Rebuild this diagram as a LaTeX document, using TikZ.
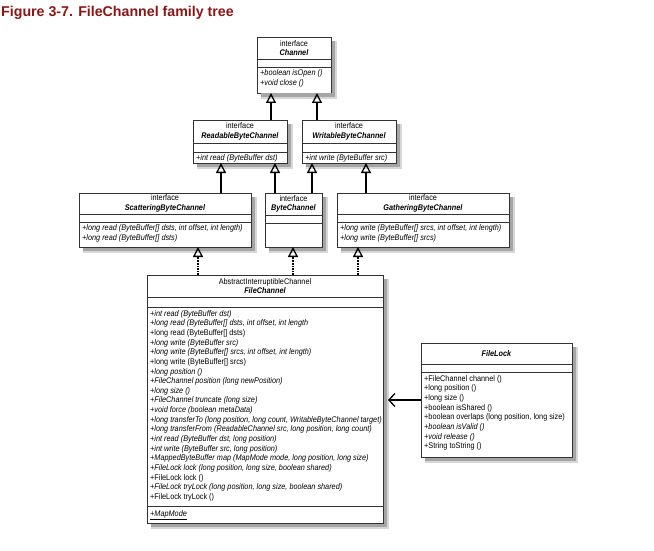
\documentclass[tikz,border=0pt]{standalone}
\usepackage{fontspec}
\setmainfont{Liberation Sans}
\newfontfamily\bfnt[FakeStretch=0.89]{Liberation Sans}
\usetikzlibrary{arrows.meta}
\definecolor{titlered}{RGB}{140,22,22}
\definecolor{shA}{RGB}{215,215,215}
\definecolor{shC}{RGB}{165,165,165}
\newcommand\ubox[7]{%
  \node[umlbox, minimum width=#4, minimum height=#5] (#1) at (#2,#3) {};
  \draw[shA, line width=5.4pt] ([xshift=3.2pt,yshift=-4pt]#1.north east) -- ([xshift=3.2pt,yshift=-3.2pt]#1.south east) -- ([xshift=4pt,yshift=-3.2pt]#1.south west);
  \draw[shC, line width=3.2pt] ([xshift=2.1pt,yshift=-4pt]#1.north east) -- ([xshift=2.1pt,yshift=-2.1pt]#1.south east) -- ([xshift=4pt,yshift=-2.1pt]#1.south west);
  \draw[divl] ([yshift=-#6pt]#1.north west) -- ([yshift=-#6pt]#1.north east);
  \draw[divl] ([yshift=-#7pt]#1.north west) -- ([yshift=-#7pt]#1.north east);
}
\begin{document}
\begin{tikzpicture}[x=1pt,y=-1pt,
  umlbox/.style={draw=black!80, line width=0.8pt, fill=white, rectangle, inner sep=0pt, outer sep=0pt, anchor=north west},
  divl/.style={draw=black!80, line width=0.8pt},
  ttl/.style={font=\bfnt\fontsize{8.2}{9.6}\selectfont, align=center, inner sep=0pt},
  mth/.style={font=\bfnt\fontsize{8.2}{9.65}\selectfont, align=left, inner sep=0pt, anchor=north west},
  gen/.style={line width=1.6pt, -{Triangle[open,length=10pt,width=10pt,line width=1.3pt]}},
  real/.style={line width=1.6pt, densely dotted, -{Triangle[open,length=10pt,width=10pt,line width=1.3pt]}},
  assoc/.style={line width=1.3pt, -{Straight Barb[length=6pt,width=13pt,line width=1.3pt]}},
]
\fill[white] (0,0) rectangle (654,551);
\useasboundingbox (0,0) rectangle (654,551);
\node[anchor=base west, inner sep=0pt, text=titlered, font=\fontsize{14.2}{16}\selectfont\bfseries] (title) at (1,17) {Figure 3-7. FileChannel family tree};

% boxes
\ubox{channel}{257}{37}{74}{56}{22}{30}
\ubox{read}{193}{120}{94}{43}{23}{32}
\ubox{write}{302}{120}{94}{43}{23}{32}
\ubox{scat}{79}{193}{172}{54}{21}{29}
\ubox{byte}{265}{193}{57}{54}{22}{30}
\ubox{gath}{337}{193}{172}{54}{21}{29}
\ubox{fc}{147}{275}{236}{248}{22}{32}
\draw[divl] ([yshift=-231pt]fc.north west) -- ([yshift=-231pt]fc.north east);
\ubox{fl}{421}{343}{151}{114}{21}{29}

% titles
\node[ttl] (channelT) at ([yshift=-11pt]channel.north) {interface\\\textbf{\textit{Channel}}};
\node[ttl] (readT) at ([yshift=-11.5pt]read.north) {interface\\\textbf{\textit{ReadableByteChannel}}};
\node[ttl] (writeT) at ([yshift=-11.5pt]write.north) {interface\\\textbf{\textit{WritableByteChannel}}};
\node[ttl] (scatT) at ([yshift=-10.5pt]scat.north) {interface\\\textbf{\textit{ScatteringByteChannel}}};
\node[ttl] (byteT) at ([yshift=-11pt]byte.north) {interface\\\textbf{\textit{ByteChannel}}};
\node[ttl] (gathT) at ([yshift=-10.5pt]gath.north) {interface\\\textbf{\textit{GatheringByteChannel}}};
\node[ttl] (fcT) at ([yshift=-11pt]fc.north) {AbstractInterruptibleChannel\\\textbf{\textit{FileChannel}}};
\node[ttl] (flT) at ([yshift=-10.5pt]fl.north) {\textbf{\textit{FileLock}}};

% methods
\node[mth] (channelM) at ([xshift=3pt,yshift=-32.5pt]channel.north west) {\textit{+boolean isOpen ()}\\\textit{+void close ()}};
\node[mth] (readM) at ([xshift=3pt,yshift=-34pt]read.north west) {\textit{+int read (ByteBuffer dst)}};
\node[mth] (writeM) at ([xshift=3pt,yshift=-34pt]write.north west) {\textit{+int write (ByteBuffer src)}};
\node[mth] (scatM) at ([xshift=3pt,yshift=-31.5pt]scat.north west) {\textit{+long read (ByteBuffer[] dsts, int offset, int length)}\\\textit{+long read (ByteBuffer[] dsts)}};
\node[mth] (gathM) at ([xshift=3pt,yshift=-31.5pt]gath.north west) {\textit{+long write (ByteBuffer[] srcs, int offset, int length)}\\\textit{+long write (ByteBuffer[] srcs)}};
\node[mth] (fcM) at ([xshift=3pt,yshift=-35pt]fc.north west) {%
\textit{+int read (ByteBuffer dst)}\\
\textit{+long read (ByteBuffer[] dsts, int offset, int length}\\
+long read (ByteBuffer[] dsts)\\
\textit{+long write (ByteBuffer src)}\\
\textit{+long write (ByteBuffer[] srcs, int offset, int length)}\\
+long write (ByteBuffer[] srcs)\\
\textit{+long position ()}\\
\textit{+FileChannel position (long newPosition)}\\
\textit{+long size ()}\\
\textit{+FileChannel truncate (long size)}\\
\textit{+void force (boolean metaData)}\\
\textit{+long transferTo (long position, long count, WritableByteChannel target)}\\
\textit{+long transferFrom (ReadableChannel src, long position, long count)}\\
\textit{+int read (ByteBuffer dst, long position)}\\
\textit{+int write (ByteBuffer src, long position)}\\
\textit{+MappedByteBuffer map (MapMode mode, long position, long size)}\\
\textit{+FileLock lock (long position, long size, boolean shared)}\\
+FileLock lock ()\\
\textit{+FileLock tryLock (long position, long size, boolean shared)}\\
+FileLock tryLock ()};
\node[mth] (fcS) at ([xshift=3pt,yshift=-235pt]fc.north west) {\underline{\textit{+MapMode}}};
\node[mth] (flM) at ([xshift=3pt,yshift=-32pt]fl.north west) {%
+FileChannel channel ()\\
+long position ()\\
+long size ()\\
+boolean isShared ()\\
+boolean overlaps (long position, long size)\\
\textit{+boolean isValid ()}\\
\textit{+void release ()}\\
+String toString ()};

% generalisations
\draw[gen] (read.north -| 271,0) -- (channel.south -| 271,0);
\draw[gen] (write.north -| 317,0) -- (channel.south -| 317,0);
\draw[gen] (scat.north -| 221,0) -- (read.south -| 221,0);
\draw[gen] (byte.north -| 275,0) -- (read.south -| 275,0);
\draw[gen] (byte.north -| 312,0) -- (write.south -| 312,0);
\draw[gen] (gath.north -| 366,0) -- (write.south -| 366,0);
% realisations
\draw[real] (fc.north -| 198,0) -- (scat.south -| 198,0);
\draw[real] (fc.north -| 293,0) -- (byte.south -| 293,0);
\draw[real] (fc.north -| 358,0) -- (gath.south -| 358,0);
% association
\draw[assoc] (fl.west) -- ([xshift=5pt]fc.east |- fl.west);
\end{tikzpicture}
\end{document}
